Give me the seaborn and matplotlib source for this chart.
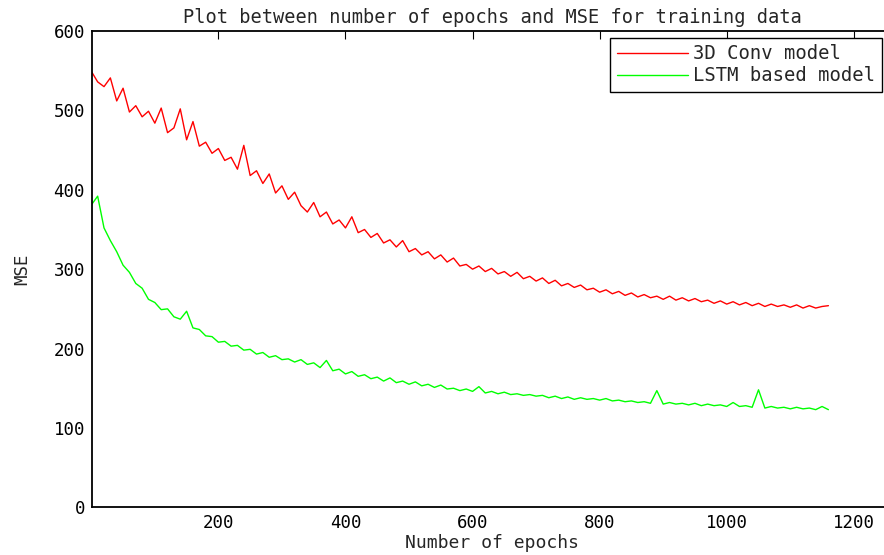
import matplotlib
matplotlib.use("Agg")
import matplotlib.pyplot as plt
import pandas as pd
import seaborn as sns

# epochs sampled every 10 (plus the first one)
epochs = [1] + list(range(10, 1161, 10))

conv3d_mse = [
    548, 536, 530, 541, 512, 528, 498, 506, 492, 499,
    484, 503, 472, 478, 502, 463, 486, 455, 460, 446,
    452, 437, 441, 426, 456, 418, 424, 408, 420, 396,
    405, 388, 397, 380, 372, 384, 366, 372, 357, 362,
    352, 366, 346, 350, 340, 345, 333, 337, 328, 336,
    322, 326, 318, 322, 313, 318, 309, 314, 304, 306,
    300, 304, 297, 301, 294, 297, 291, 296, 288, 291,
    285, 289, 282, 286, 279, 282, 277, 280, 274, 276,
    271, 274, 269, 272, 267, 270, 265, 268, 264, 266,
    262, 266, 261, 264, 260, 263, 259, 261, 257, 260,
    256, 259, 255, 258, 254, 257, 253, 256, 253, 255,
    252, 255, 251, 254, 251, 253, 254,
]

lstm_mse = [
    382, 392, 352, 336, 322, 305, 296, 282, 276, 262,
    258, 249, 250, 240, 237, 247, 226, 224, 216, 215,
    208, 209, 203, 204, 198, 199, 193, 195, 189, 191,
    186, 187, 183, 186, 180, 182, 176, 185, 172, 174,
    168, 171, 165, 167, 162, 164, 159, 163, 157, 159,
    155, 158, 153, 155, 151, 154, 149, 150, 147, 149,
    146, 152, 144, 146, 143, 145, 142, 143, 141, 142,
    140, 141, 138, 140, 137, 139, 136, 138, 136, 137,
    135, 137, 134, 135, 133, 134, 132, 133, 131, 147,
    130, 132, 130, 131, 129, 131, 128, 130, 128, 129,
    127, 132, 127, 128, 126, 148, 125, 127, 125, 126,
    124, 126, 124, 125, 123, 127, 123,
]

series_names = ["3D Conv model", "LSTM based model"]
series_colors = ["#ff0000", "#00ff00"]

df = pd.concat([
    pd.DataFrame({"epoch": epochs, "mse": conv3d_mse, "model": series_names[0]}),
    pd.DataFrame({"epoch": epochs, "mse": lstm_mse, "model": series_names[1]}),
])

sns.set_style("white")
plt.rcParams["font.family"] = ["DejaVu Sans Mono"]
FS = 12.5

fig = plt.figure(figsize=(8.84, 5.55), dpi=100)
# plot box runs just past the right edge of the picture, as in the original
ax = fig.add_axes([0.104, 0.086, 0.905, 0.858])

sns.lineplot(data=df, x="epoch", y="mse", hue="model",
             palette=dict(zip(series_names, series_colors)),
             linewidth=1.0, ax=ax)

ax.set_xlim(1, 1260)
ax.set_ylim(0, 600)
ax.set_xticks(range(200, 1201, 200))
ax.set_yticks(range(0, 601, 100))
ax.tick_params(direction="in", length=6, top=True, right=False,
               labelsize=FS, colors="black", pad=5)
for s in ax.spines.values():
    s.set_color("black")
    s.set_linewidth(1.3)
ax.spines["right"].set_visible(False)

ax.set_xlabel("Number of epochs", fontsize=13, labelpad=1)
ax.set_ylabel("MSE", fontsize=FS, labelpad=16)
ax.set_title("Plot between number of epochs and MSE for training data",
             fontsize=13.4, pad=6)

leg = ax.legend(loc="upper left", bbox_to_anchor=(0.690, 0.932),
                bbox_transform=fig.transFigure, borderaxespad=0,
                fontsize=13.6, frameon=True, fancybox=False, framealpha=1,
                edgecolor="black", handlelength=3.8, borderpad=0.35,
                labelspacing=0.15, handletextpad=0.25)
leg.get_frame().set_linewidth(1.0)

fig.savefig("out.png", dpi=100)
